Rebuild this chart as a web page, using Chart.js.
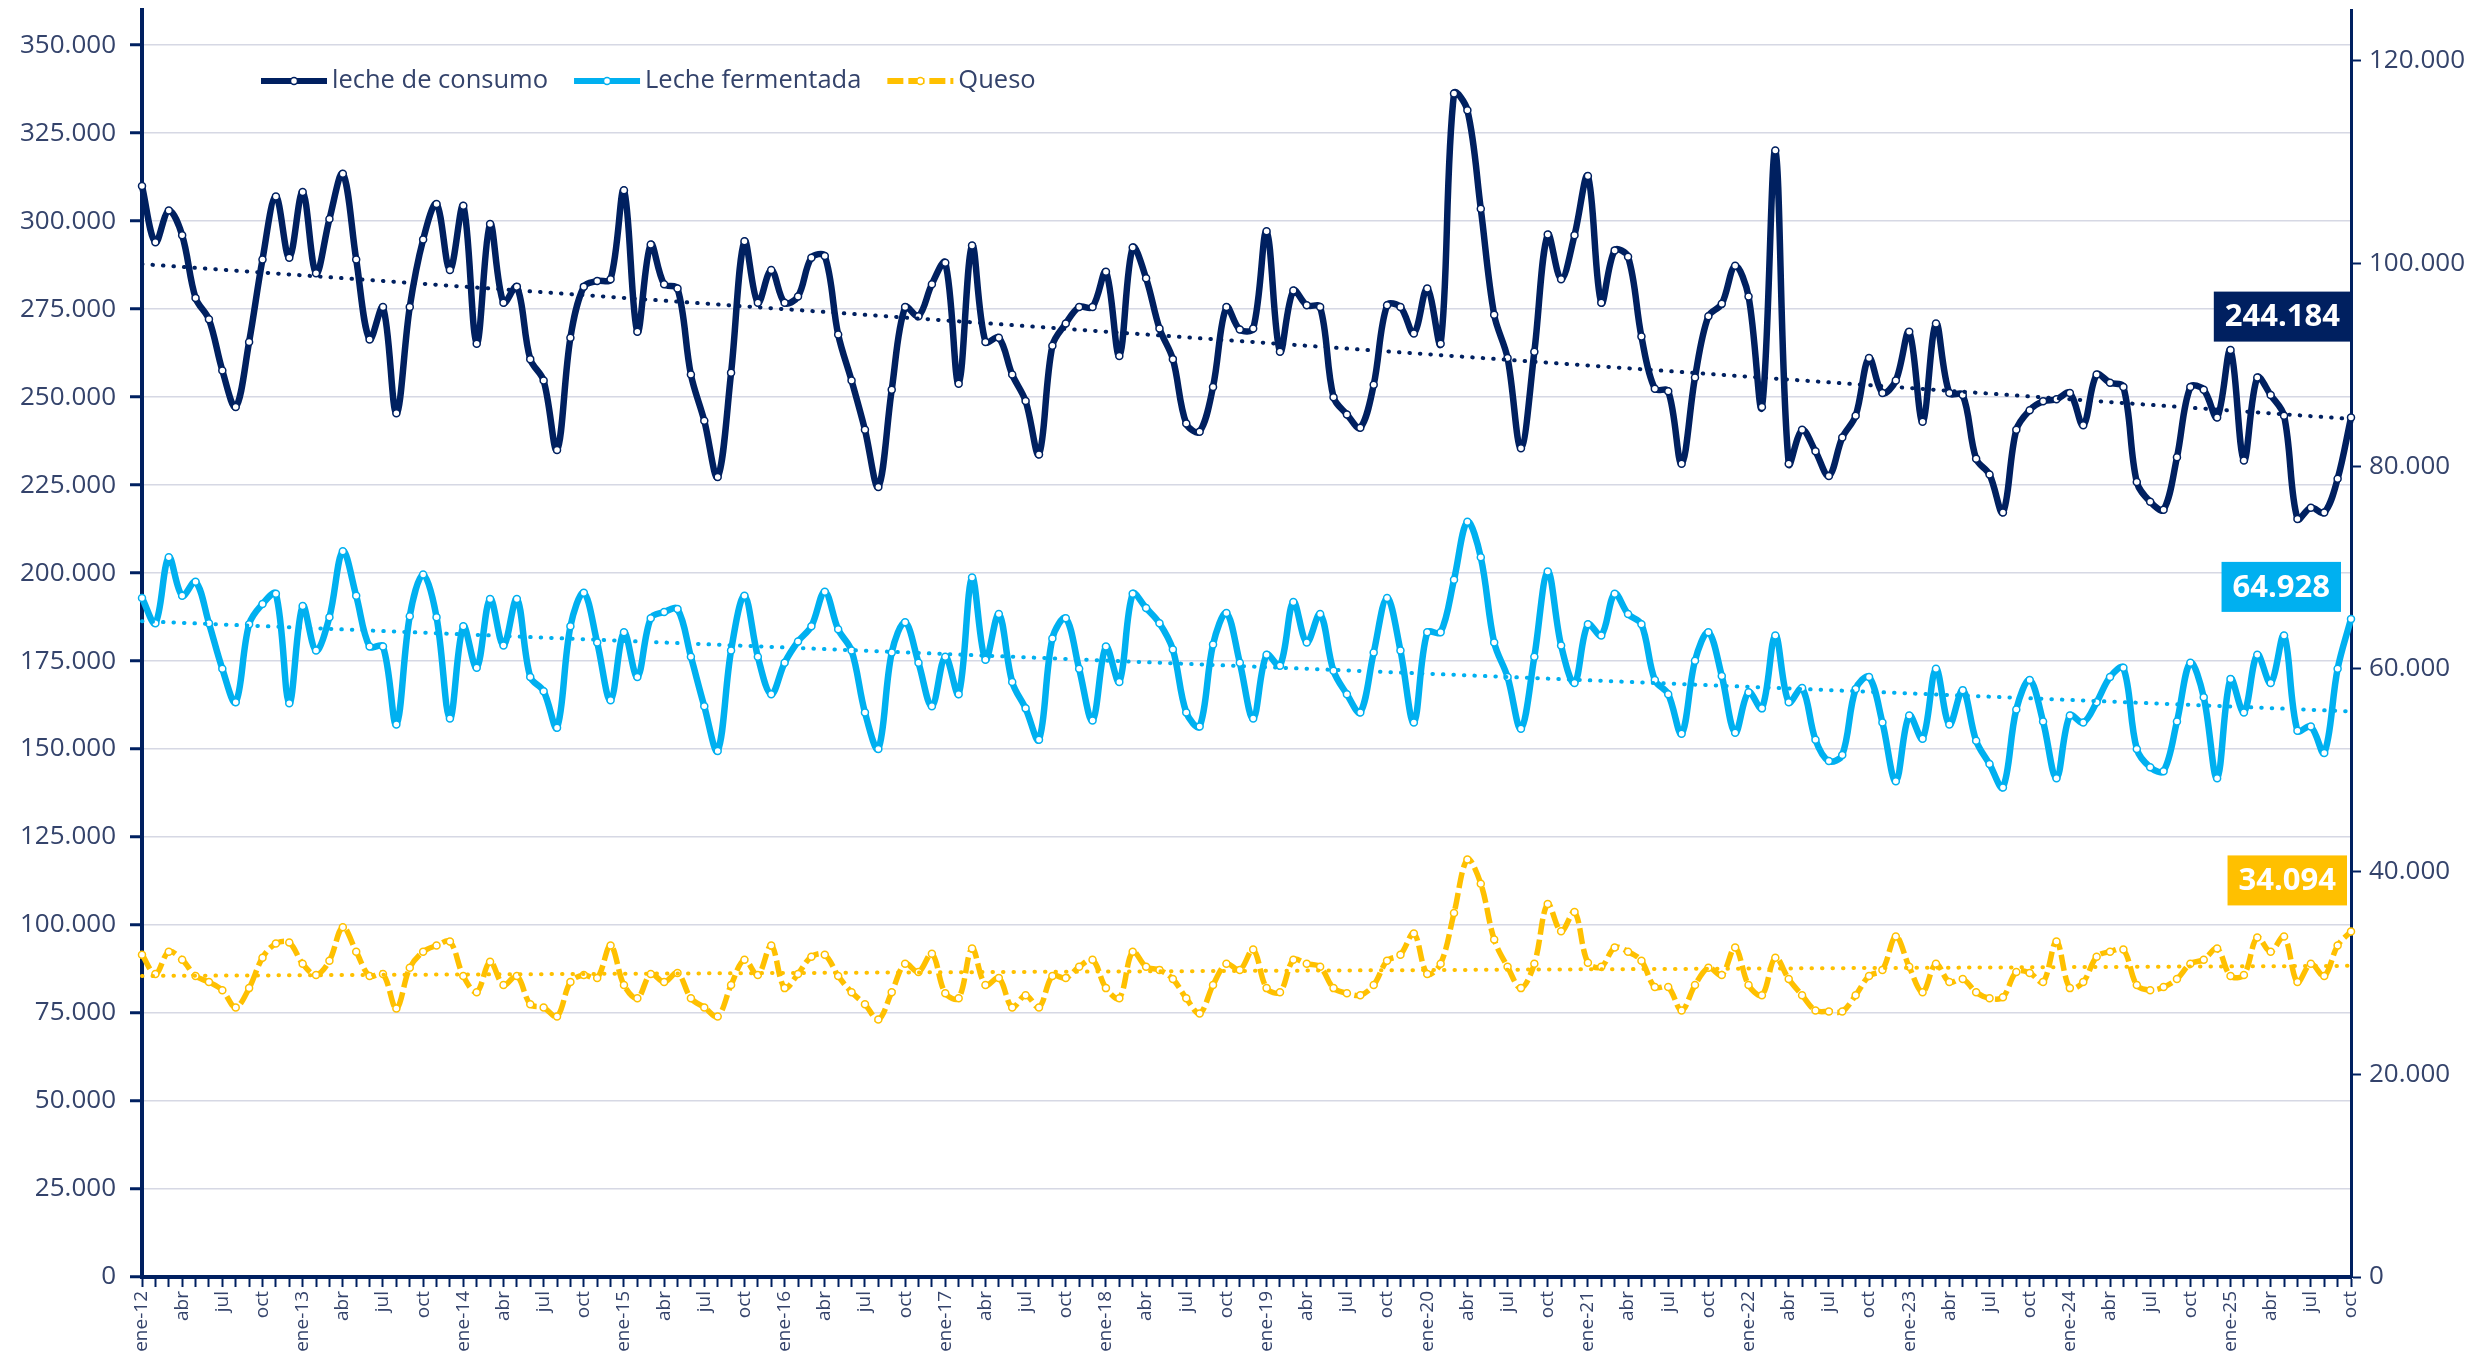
<!DOCTYPE html>
<html lang="es">
<head>
<meta charset="utf-8">
<script src="https://cdn.jsdelivr.net/npm/chart.js@4.4.1/dist/chart.umd.min.js"></script>
<style>
  html, body { margin: 0; padding: 0; background: #ffffff; }
  #contenedor { width: 2478px; height: 1352px; }
</style>
</head>
<body>
<div id="contenedor"><canvas id="grafico" width="2478" height="1352"></canvas></div>
<script>
// Meses y años del periodo (ene-12 a oct-25)
const meses = ['ene', 'feb', 'mar', 'abr', 'may', 'jun', 'jul', 'ago', 'sep', 'oct', 'nov', 'dic'];
const anios = [12, 13, 14, 15, 16, 17, 18, 19, 20, 21, 22, 23, 24, 25];
const ultimoMes = 9; // oct-25

// Marcas de los ejes
const marcasIzq = [0, 25000, 50000, 75000, 100000, 125000, 150000, 175000, 200000, 225000, 250000, 275000, 300000, 325000, 350000];
const marcasDer = [0, 20000, 40000, 60000, 80000, 100000, 120000];

// Leche de consumo (eje izquierdo)
const lecheConsumo = [
  310000, 294000, 303000, 296000, 278200, 272100, 257600, 247200, 265700, 289100, 307000, 289600,
  308300, 285200, 300600, 313500, 289100, 266400, 275600, 245400, 275600, 294800, 304900, 286100,
  304400, 265200, 299200, 276800, 281400, 260800, 254700, 235000, 266900, 281400, 283000, 283500,
  308800, 268600, 293400, 282100, 280900, 256400, 243300, 227300, 256900, 294300, 276800, 286100,
  276800, 278600, 289600, 290100, 267800, 254700, 240700, 224500, 252100, 275600, 273000, 282100,
  288200, 253800, 293100, 265700, 266900, 256400, 248900, 233700, 264600, 270900, 275600, 275600,
  285600, 261700, 292500, 283800, 269500, 260800, 242500, 240200, 252900, 275600, 269200, 269500,
  297100, 262900, 280300, 276100, 275600, 250000, 245100, 241300, 253500, 276100, 275600, 268100,
  280900, 265200, 336300, 331500, 303500, 273400, 261100, 235500, 262900, 296200, 283500, 296000,
  312800, 276800, 291700, 289900, 267200, 252400, 251700, 231100, 255600, 273000, 276500, 287300,
  278600, 247200, 320100, 231100, 240700, 234600, 227600, 238500, 244700, 261100, 251200, 254700,
  268600, 243000, 270900, 251200, 250600, 232500, 228000, 217200, 240700, 246300, 248800, 249400,
  251200, 242000, 256400, 254100, 252900, 225900, 220300, 218000, 232900, 252900, 252100, 244200,
  263400, 232000, 255600, 250600, 244700, 215400, 218600, 217200, 226800, 244184
];

// Leche fermentada (eje derecho)
const lecheFermentada = [
  67000, 64500, 71000, 67200, 68600, 64500, 60000, 56700, 64400, 66400, 67400, 56600,
  66200, 61800, 65100, 71600, 67200, 62200, 62200, 54500, 65200, 69300, 65100, 55100,
  64200, 60100, 66900, 62300, 66900, 59200, 57800, 54200, 64200, 67500, 62600, 56900,
  63600, 59200, 65000, 65600, 65900, 61200, 56300, 51900, 61800, 67200, 61200, 57500,
  60600, 62700, 64200, 67600, 63900, 61800, 55700, 52100, 61600, 64600, 60600, 56300,
  61200, 57500, 69000, 60900, 65400, 58700, 56100, 53000, 63000, 65000, 60000, 54900,
  62200, 58700, 67400, 66000, 64500, 61900, 55700, 54300, 62400, 65500, 60600, 55100,
  61400, 60300, 66600, 62600, 65400, 59800, 57500, 55700, 61600, 67000, 61800, 54700,
  63600, 63600, 68800, 74500, 71000, 62600, 59200, 54100, 61200, 69600, 62300, 58600,
  64400, 63300, 67400, 65400, 64400, 58900, 57500, 53600, 60800, 63600, 59300, 53700,
  57700, 56100, 63300, 56700, 58100, 53000, 50900, 51500, 58000, 59200, 54700, 48900,
  55400, 53100, 60000, 54500, 57900, 52900, 50600, 48300, 56000, 58900, 54800, 49200,
  55400, 54700, 56700, 59200, 60100, 52100, 50300, 49900, 54800, 60600, 57200, 49200,
  59000, 55700, 61400, 58600, 63300, 53900, 54300, 51700, 60000, 64928
];

// Queso (eje derecho)
const queso = [
  31800, 29900, 32100, 31300, 29700, 29100, 28300, 26600, 28500, 31500, 32900, 33000,
  30900, 29800, 31200, 34500, 32100, 29700, 29900, 26500, 30500, 32100, 32700, 33100,
  29700, 28100, 31100, 28800, 29700, 26900, 26600, 25700, 29100, 29800, 29500, 32700,
  28800, 27500, 29900, 29100, 30000, 27500, 26600, 25700, 28800, 31300, 29800, 32700,
  28500, 29900, 31600, 31800, 29700, 28100, 26900, 25400, 28100, 30900, 30100, 31900,
  28000, 27500, 32400, 28800, 29500, 26600, 27800, 26600, 29700, 29500, 30600, 31300,
  28500, 27500, 32100, 30600, 30300, 29400, 27500, 26000, 28800, 30900, 30300, 32300,
  28500, 28100, 31300, 30900, 30600, 28500, 28000, 27800, 28800, 31200, 31800, 33900,
  29900, 30900, 35900, 41200, 38800, 33300, 30600, 28500, 30900, 36800, 34100, 36000,
  31000, 30600, 32500, 32100, 31200, 28600, 28600, 26300, 28800, 30500, 29800, 32500,
  28800, 27800, 31500, 29400, 27800, 26300, 26200, 26200, 27800, 29700, 30300, 33600,
  30600, 28100, 30900, 29100, 29400, 28100, 27500, 27600, 30100, 30000, 29100, 33100,
  28500, 29100, 31600, 32100, 32300, 28800, 28300, 28600, 29400, 30900, 31300, 32400,
  29700, 29800, 33500, 32100, 33600, 29100, 30900, 29700, 32700, 34094
];

// Tendencias lineales: valor inicial y final
const tendConsumo = [287800, 243800];
const tendFermentada = [64700, 55800];
const tendQueso = [29700, 30700];

const AZUL = '#002060';
const CELESTE = '#00b0f0';
const AMARILLO = '#ffc000';
const TEXTO = '#34436b';
const FUENTE = "'Open Sans', 'Noto Sans', sans-serif";

// etiquetas del eje x
const etiquetas = [];
anios.forEach((a, k) => {
  const tope = k === anios.length - 1 ? ultimoMes : 11;
  for (let m = 0; m <= tope; m++) {
    etiquetas.push(m === 0 ? 'ene-' + a : meses[m]);
  }
});

function puntos(v) {
  return Math.round(v).toString().replace(/\B(?=(\d{3})+(?!\d))/g, '.');
}

// linea de tendencia: solo extremos, el resto vacio
function tendencia(par) {
  return etiquetas.map((_, i) => i === 0 ? par[0] : (i === etiquetas.length - 1 ? par[1] : null));
}

function serie(label, data, color, eje, extra) {
  return Object.assign({
    label: label,
    data: data,
    yAxisID: eje,
    borderColor: color,
    backgroundColor: color,
    borderWidth: 6.5,
    tension: 0.35,
    pointRadius: 3.5,
    pointBackgroundColor: '#ffffff',
    pointBorderColor: color,
    pointBorderWidth: 1.5,
    fill: false
  }, extra || {});
}

function serieTend(data, color, eje) {
  return {
    label: '',
    data: data,
    yAxisID: eje,
    borderColor: color,
    borderWidth: 4,
    borderDash: [0.5, 10],
    borderCapStyle: 'round',
    pointRadius: 0,
    spanGaps: true,
    tension: 0,
    fill: false,
    order: -1
  };
}

// Leyenda dentro del area del grafico
const leyenda = {
  id: 'leyenda',
  afterDraw(chart) {
    const ctx = chart.ctx;
    let x = 261;
    const y = 81;
    ctx.save();
    ctx.font = '25.5px ' + FUENTE;
    ctx.textBaseline = 'middle';
    for (let i = 0; i < 3; i++) {
      const ds = chart.data.datasets[i];
      ctx.strokeStyle = ds.borderColor;
      ctx.lineWidth = 6;
      ctx.setLineDash(ds.borderDash || []);
      ctx.beginPath();
      ctx.moveTo(x, y);
      ctx.lineTo(x + 66, y);
      ctx.stroke();
      ctx.setLineDash([]);
      ctx.fillStyle = '#ffffff';
      ctx.strokeStyle = ds.borderColor;
      ctx.lineWidth = 1.5;
      ctx.beginPath();
      ctx.arc(x + 33, y, 3.5, 0, Math.PI * 2);
      ctx.fill();
      ctx.stroke();
      ctx.fillStyle = TEXTO;
      ctx.fillText(ds.label, x + 71, y);
      x += 71 + ctx.measureText(ds.label).width + 26;
    }
    ctx.restore();
  }
};

// Recuadros con el ultimo valor de cada serie
const ultimos = {
  id: 'ultimos',
  afterDatasetsDraw(chart) {
    const ctx = chart.ctx;
    const derecha = chart.chartArea.right;
    const cajas = [
      { ds: 0, finX: 0, sube: 76 },
      { ds: 1, finX: 10, sube: 7 },
      { ds: 2, finX: 4, sube: 26 }
    ];
    ctx.save();
    ctx.font = 'bold 31px ' + FUENTE;
    ctx.textBaseline = 'middle';
    ctx.textAlign = 'center';
    cajas.forEach(c => {
      const ds = chart.data.datasets[c.ds];
      const meta = chart.getDatasetMeta(c.ds);
      const p = meta.data[meta.data.length - 1];
      const texto = puntos(ds.data[ds.data.length - 1]);
      const w = ctx.measureText(texto).width + 22;
      const h = 50;
      const x1 = derecha - c.finX;
      const y2 = p.y - c.sube;
      ctx.fillStyle = ds.borderColor;
      ctx.fillRect(x1 - w, y2 - h, w, h);
      ctx.fillStyle = '#ffffff';
      ctx.fillText(texto, x1 - w / 2, y2 - h / 2 + 1);
    });
    ctx.restore();
  }
};

// sin margen extra arriba/abajo por las etiquetas del eje
function sinRelleno(s) {
  s.paddingTop = 0;
  s.paddingBottom = 0;
}

const ctx = document.getElementById('grafico').getContext('2d');
new Chart(ctx, {
  type: 'line',
  data: {
    labels: etiquetas,
    datasets: [
      serie('leche de consumo', lecheConsumo, AZUL, 'y'),
      serie('Leche fermentada', lecheFermentada, CELESTE, 'y2'),
      serie('Queso', queso, AMARILLO, 'y2', { borderWidth: 5.5, borderDash: [16, 5] }),
      serieTend(tendencia(tendConsumo), AZUL, 'y'),
      serieTend(tendencia(tendFermentada), CELESTE, 'y2'),
      serieTend(tendencia(tendQueso), AMARILLO, 'y2')
    ]
  },
  options: {
    responsive: false,
    animation: false,
    devicePixelRatio: 1,
    layout: { padding: { top: 10, left: 0, right: 0, bottom: 0 } },
    plugins: {
      legend: { display: false },
      tooltip: { enabled: false }
    },
    scales: {
      x: {
        type: 'category',
        offset: false,
        grid: { drawOnChartArea: false, drawTicks: true, tickLength: 10, tickColor: AZUL, tickWidth: 2 },
        border: { color: AZUL, width: 4 },
        ticks: {
          autoSkip: false,
          maxRotation: 90,
          minRotation: 90,
          padding: 4,
          color: TEXTO,
          font: { family: FUENTE, size: 19 },
          callback: function (v, i) { return i % 3 === 0 ? etiquetas[i] : ''; }
        },
        afterFit(s) { s.height = 75; }
      },
      y: {
        position: 'left',
        min: 0,
        max: 360000,
        grid: { color: '#d6d8e4', lineWidth: 1.5, tickLength: 12, tickColor: AZUL, tickWidth: 3 },
        border: { color: AZUL, width: 4 },
        ticks: {
          padding: 14,
          color: TEXTO,
          font: { family: FUENTE, size: 26 },
          callback: v => puntos(v)
        },
        afterBuildTicks(s) { s.ticks = marcasIzq.map(v => ({ value: v })); },
        afterFit(s) { s.width = 142; sinRelleno(s); }
      },
      y2: {
        position: 'right',
        min: 0,
        max: 125000,
        grid: { drawOnChartArea: false, tickLength: 10, tickColor: AZUL, tickWidth: 2 },
        border: { color: AZUL, width: 3 },
        ticks: {
          padding: 8,
          color: TEXTO,
          font: { family: FUENTE, size: 26 },
          callback: v => puntos(v)
        },
        afterBuildTicks(s) { s.ticks = marcasDer.map(v => ({ value: v })); },
        afterFit(s) { s.width = 127; sinRelleno(s); }
      }
    }
  },
  plugins: [leyenda, ultimos]
});
</script>
</body>
</html>
